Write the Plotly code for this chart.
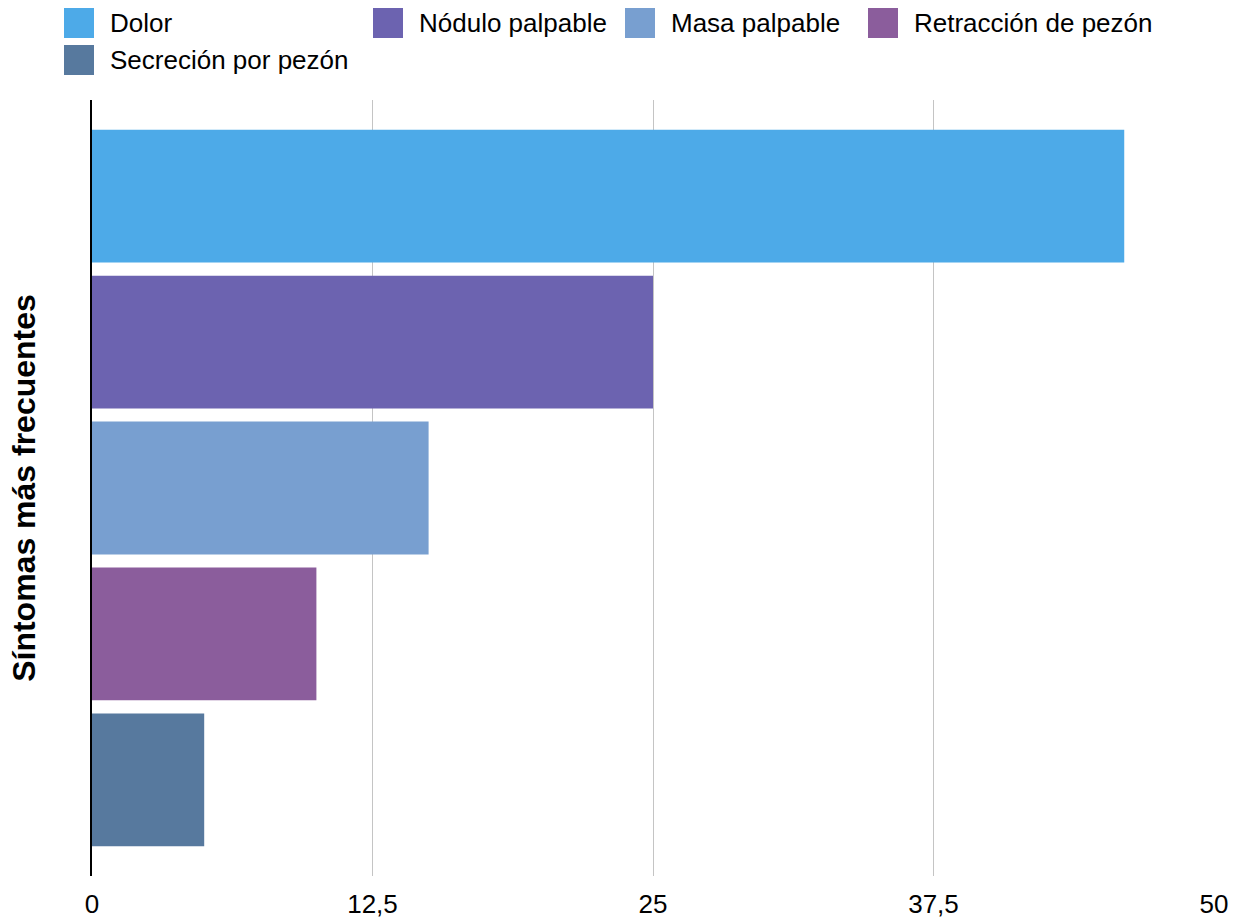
import plotly.graph_objects as go

series_names = ["Dolor", "Nódulo palpable", "Masa palpable", "Retracción de pezón", "Secreción por pezón"]
series_values = [46, 25, 15, 10, 5]
series_colors = ["#4DAAE8", "#6C63B0", "#789FD0", "#8B5D9C", "#57799E"]
category = ["Síntomas más frecuentes"]
tick_vals = [0, 12.5, 25, 37.5, 50]
tick_text = ["0", "12,5", "25", "37,5", "50"]

W, H = 1238, 919
L, R, T, B = 92, 24, 100, 43
pw, ph = W - L - R, H - T - B

FONT = "Liberation Sans, Arial, sans-serif"

fig = go.Figure()
for name, val, col in zip(series_names, series_values, series_colors):
    fig.add_trace(go.Bar(
        y=category, x=[val], name=name, orientation="h",
        marker=dict(color=col, line=dict(width=0)), showlegend=False,
    ))

# manual legend (positions in pixels -> paper coords)
def px_x(p):
    return (p - L) / pw

def px_y(p):
    return (H - B - p) / ph

legend_pos = [(64, 8), (373, 8), (625, 8), (868, 8), (64, 45)]
shapes = []
annotations = []
for (sx, sy), name, col in zip(legend_pos, series_names, series_colors):
    shapes.append(dict(type="rect", xref="paper", yref="paper",
                       x0=px_x(sx), x1=px_x(sx + 30), y0=px_y(sy + 30), y1=px_y(sy),
                       fillcolor=col, line=dict(width=0)))
    annotations.append(dict(xref="paper", yref="paper", x=px_x(sx + 44), y=px_y(sy + 15),
                            text=name, showarrow=False, xanchor="left", yanchor="middle",
                            font=dict(family=FONT, size=26, color="#000000")))

fig.update_layout(
    width=W, height=H,
    margin=dict(l=L, r=R, t=T, b=B, pad=0),
    paper_bgcolor="white", plot_bgcolor="white",
    barmode="group", bargap=0.06, bargroupgap=0.09,
    shapes=shapes, annotations=annotations,
    font=dict(family=FONT, size=24, color="#000000"),
    xaxis=dict(range=[0, 50], tickvals=tick_vals, ticktext=tick_text,
               showgrid=True, gridcolor="#C4C4C4", gridwidth=1, automargin=False,
               zeroline=False, showline=False, ticks="", ticklabelstandoff=10,
               tickfont=dict(family=FONT, size=26, color="#000000")),
    yaxis=dict(autorange="reversed", showticklabels=False, ticks="", automargin=False,
               showline=True, linecolor="#000000", linewidth=2,
               showgrid=False, zeroline=False,
               title=dict(text="<b>Síntomas más frecuentes</b>", standoff=45,
                          font=dict(family=FONT, size=32, color="#000000"))),
)

fig.write_html("out.html", config={"displayModeBar": False},
               post_script="document.body.style.margin='0';")
